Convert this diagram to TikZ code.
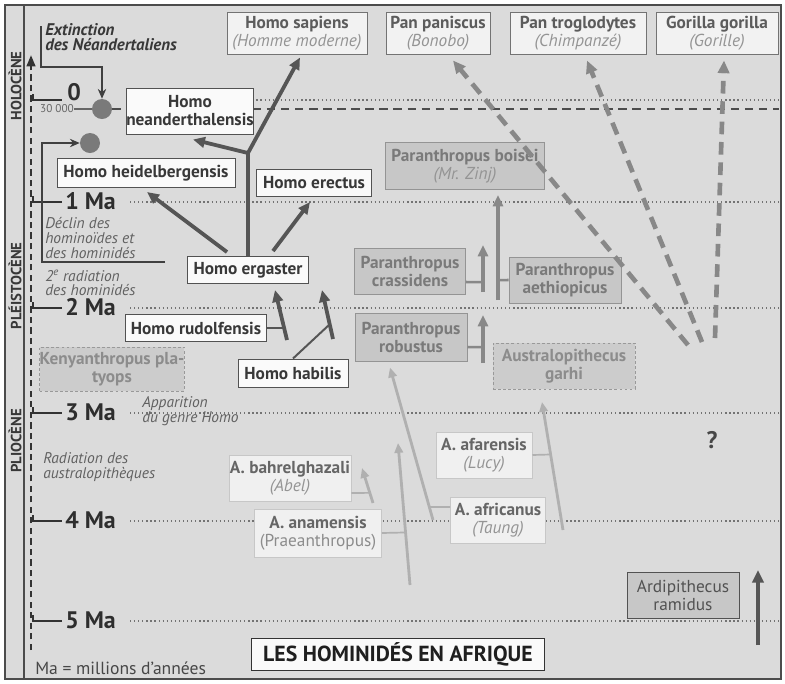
\documentclass[tikz,border=0pt]{standalone}
\usepackage{fontspec}
\setmainfont{PT Sans}
\usetikzlibrary{arrows.meta,calc}

\definecolor{homoline}{HTML}{555555}
\definecolor{paraline}{HTML}{888888}
\definecolor{australine}{HTML}{B0B0B0}

\newcommand\vernac[1]{{\mdseries\itshape\color{black!42}#1}}

\tikzset{
  sz/.style 2 args={minimum width=#1*0.25mm, minimum height=#2*0.25mm},
  taxon/.style={align=center, inner sep=0pt, line width=0.7pt,
    font=\bfseries\fontsize{12.3}{12.8}\selectfont},
  homobox/.style={taxon, draw=black!68, fill=black!2, text=black!78},
  apebox/.style={taxon, draw=black!55, fill=black!5, text=black!64},
  parabox/.style={taxon, draw=black!42, fill=black!22, text=black!52},
  australbox/.style={taxon, draw=black!22, fill=black!6, text=black!60},
  doubtbox/.style={taxon, draw=black!40, dash pattern=on 2pt off 1.6pt, fill=black!20, text=black!45},
  malabel/.style={inner sep=0pt, anchor=west, text=black!82, font=\bfseries\fontsize{17}{17}\selectfont},
  note/.style={inner sep=0pt, anchor=west, align=left, text=black!62, font=\itshape\fontsize{11}{10.5}\selectfont},
  era/.style={rotate=90, inner sep=0pt, text=black!78, font=\bfseries\fontsize{10.5}{10.5}\selectfont},
  grid/.style={black!55, line width=0.9pt, dotted},
  homoarrow/.style={homoline, line width=2.7pt, -{Triangle[length=8.5pt,width=7.5pt]}},
  homolink/.style={homoline, line width=1.4pt},
  paraarrow/.style={paraline, line width=2.6pt, -{Triangle[length=8pt,width=7pt]}},
  paralink/.style={paraline, line width=1.8pt},
  australarrow/.style={australine, line width=2pt, -{Triangle[length=7pt,width=6pt]}},
  australlink/.style={australine, line width=1.2pt},
  apearrow/.style={paraline, line width=3.3pt, dash pattern=on 9pt off 5.5pt, -{Triangle[length=9pt,width=8pt]}},
  bracket/.style={black!75, line width=0.9pt, -{Stealth[length=7pt,width=6pt]}},
  event/.style={circle, fill=black!52, minimum size=5mm, inner sep=0pt},
}

\begin{document}
\begin{tikzpicture}[x=0.25mm,y=-0.25mm]
  \useasboundingbox (0,0) rectangle (785,683);
  % frame
  \draw[black!70, line width=1pt, fill=black!14] (5,5) rectangle (781,679);
  \draw[black!70, line width=0.8pt] (24,5) -- (24,679);
  \coordinate (rightedge) at (779,0);

  % time axis
  \draw[black!80, line width=1.8pt, dash pattern=on 4.5pt off 3pt, -{Triangle[length=8pt,width=6pt]}] (31,650) -- (31,55);
  \node[era] (holo) at (15,86) {HOLOCÈNE};
  \node[era] (pleisto) at (15,286) {PLÉISTOCÈNE};
  \node[era] (plio) at (15,441) {PLIOCÈNE};

  \foreach \y in {100,202,308,413,521,621}
    \draw[grid] (130,\y) -- (779,\y);

  \draw[black!80, line width=1pt] (33,94) |- (62,100);
  \node[malabel, anchor=south west] (ma0) at (67,101) {0};
  \foreach \y/\n in {202/1,308/2,413/3,521/4,621/5} {
    \draw[black!80, line width=1pt] (33,\y-6) |- (62,\y);
    \node[malabel] (ma\n) at (65,\y-1) {\n~Ma};
  }

  % events
  \node[event] (c1) at (102,109) {};
  \node[event] (c2) at (90,143) {};
  \node[inner sep=0pt, text=black!60, font=\fontsize{8}{8}\selectfont] (t30) at (57,109) {30 000};
  \draw[black!60, line width=0.8pt] (t30.east) -- (c1.west);
  \draw[black!70, line width=1.2pt, dash pattern=on 6pt off 4pt] (c1.east) -- (c1.east -| rightedge);

  % notes
  \node[note, font=\bfseries\itshape\fontsize{12}{10.8}\selectfont, text=black!78] (extinct) at (45,37) {Extinction\\des Néandertaliens};
  \node[note] (declin) at (45,238) {Déclin des\\hominoïdes et\\des hominidés};
  \node[note] (radhom) at (45,283) {2\textsuperscript{e} radiation\\des hominidés};
  \node[note] (appar) at (142,411) {Apparition\\du genre Homo};
  \node[note] (radaus) at (43,467) {Radiation des\\australopithèques};
  \node[inner sep=0pt, anchor=west, text=black!72, font=\fontsize{12.5}{12.5}\selectfont] (legend) at (35,668) {Ma = millions d’années};
  \node[font=\bfseries\fontsize{17}{17}\selectfont, text=black!72] (unknown) at (712,440) {?};

  \coordinate (extTop) at (41,26);
  \draw[bracket] (extTop) |- (102,67) -- (c1.north);
  \coordinate (heiTop) at (165,262);
  \draw[bracket] (heiTop) -| (42,143) -- (c2.west);

  % taxa
  \node[apebox, sz={140}{42}] (sapiens) at (297,33) {Homo sapiens\\\vernac{(Homme moderne)}};
  \node[apebox, sz={104}{42}] (paniscus) at (438,33) {Pan paniscus\\\vernac{(Bonobo)}};
  \node[apebox, sz={136}{42}] (troglo) at (578,33) {Pan troglodytes\\\vernac{(Chimpanzé)}};
  \node[apebox, sz={122}{42}] (gorilla) at (717,33) {Gorilla gorilla\\\vernac{(Gorille)}};

  \node[homobox, sz={125}{46}] (nean) at (190,111) {Homo\\neanderthalensis};
  \node[homobox, sz={178}{29}] (heidel) at (146,173) {Homo heidelbergensis};
  \node[homobox, sz={115}{27}] (erectus) at (314,183) {Homo erectus};
  \node[homobox, sz={121}{27}] (ergaster) at (248,270) {Homo ergaster};
  \node[homobox, sz={141}{27}] (rudolf) at (196,328) {Homo rudolfensis};
  \node[homobox, sz={110}{28}] (habilis) at (293,373) {Homo habilis};
  \node[doubtbox, sz={141}{44}] (kenya) at (112,369) {Kenyanthropus pla-\\tyops};

  \node[parabox, sz={159}{47}] (boisei) at (465,166) {Paranthropus boisei\\\vernac{(Mr. Zinj)}};
  \node[parabox, sz={111}{46}] (crassi) at (410,271) {Paranthropus\\crassidens};
  \node[parabox, sz={112}{46}] (aethio) at (565,280) {Paranthropus\\aethiopicus};
  \node[parabox, sz={112}{48}] (robustus) at (411,337) {Paranthropus\\robustus};
  \node[doubtbox, sz={142}{46}] (garhi) at (564,366) {Australopithecus\\garhi};

  \node[australbox, sz={122}{46}] (bahrel) at (290,478) {A. bahrelghazali\\\vernac{(Abel)}};
  \node[australbox, sz={127}{48}] (anam) at (318,533) {A. anamensis\\{\mdseries\color{black!45}(Praeanthropus)}};
  \node[australbox, sz={96}{46}] (afar) at (484,455) {A. afarensis\\\vernac{(Lucy)}};
  \node[australbox, sz={95}{46}] (afric) at (498,520) {A. africanus\\\vernac{(Taung)}};
  \node[parabox, draw=black!68, text=black!68, sz={112}{46}, font=\mdseries\fontsize{12.3}{12.8}\selectfont] (ardi) at (683,595) {Ardipithecus\\ramidus};

  \node[homobox, draw=black!80, text=black!88, sz={293}{32}, font=\bfseries\fontsize{15.5}{15.5}\selectfont] (title) at (398,654) {LES HOMINIDÉS EN AFRIQUE};

  % genre Homo
  \coordinate (br) at (248,153);
  \draw[homoline, line width=2.7pt] (ergaster.north) -- (br);
  \draw[homoarrow] (br) -- ($(sapiens.south)+(3,3)$);
  \draw[homoarrow] (br) -- ($(nean.south)+(3,5)$);
  \draw[homoarrow] ($(ergaster.north)+(-21,-4)$) -- ($(heidel.south)+(1,4)$);
  \draw[homoarrow] ($(ergaster.north)+(25,-5)$) -- ($(erectus.south)+(-4,5)$);
  \coordinate (rudbase) at (287,340);
  \coordinate (rudtip) at (275,290);
  \draw[homoarrow] (rudbase) -- (rudtip);
  \draw[homolink] (rudolf.east) -- ($(rudbase)!0.24!(rudtip)$);
  \coordinate (habbase) at (333,339);
  \coordinate (habtip) at (322,290);
  \draw[homoarrow] (habbase) -- (habtip);
  \draw[homolink] (habilis.north) -- ($(habbase)!0.3!(habtip)$);

  % Paranthropes
  \coordinate (robbase) at (483,363);
  \coordinate (robtip) at (483,315);
  \draw[paraarrow] (robbase) -- (robtip);
  \draw[paralink] ($(robustus.east)+(0,10)$) -- ($(robbase)!0.33!(robtip)$);
  \coordinate (crabase) at (483,292);
  \coordinate (cratip) at (483,245);
  \draw[paraarrow] (crabase) -- (cratip);
  \draw[paralink] ($(crassi.east)+(0,11)$) -- ($(crabase)!0.21!(cratip)$);
  \coordinate (boibase) at (498,300);
  \coordinate (boitip) at (498,195);
  \draw[paraarrow] (boibase) -- (boitip);
  \draw[paralink] (aethio.west) -- ($(boibase)!0.19!(boitip)$);

  % Australopitheques
  \coordinate (bahbase) at (373,503);
  \coordinate (bahtip) at (362,468);
  \draw[australarrow] (bahbase) -- (bahtip);
  \draw[australlink] ($(bahrel.east)+(0,15)$) -- ($(bahbase)!0.29!(bahtip)$);
  \coordinate (anabase) at (410,585);
  \coordinate (anatip) at (398,443);
  \draw[australarrow] (anabase) -- (anatip);
  \draw[australlink] (anam.east) -- ($(anabase)!0.37!(anatip)$);
  \coordinate (afrbase) at (433,520);
  \draw[australarrow] (afrbase) -- ($(robustus.south)+(-21,6)$);
  \draw[australlink] ($(afric.west)+(0,-13)$) -- ($(afrbase)!0.086!($(robustus.south)+(-21,6)$)$);
  \coordinate (afabase) at (563,530);
  \coordinate (afatip) at (542,402);
  \draw[australarrow] (afabase) -- (afatip);
  \draw[australlink] (afar.east) -- ($(afabase)!0.59!(afatip)$);

  % grands singes
  \coordinate (apeA) at (688,345);
  \coordinate (apeB) at (702,342);
  \coordinate (apeC) at (715,338);
  \draw[apearrow] (apeA) -- ($(paniscus.south)+(15,6)$);
  \draw[apearrow] (apeB) -- ($(troglo.south)+(9,6)$);
  \draw[apearrow] (apeC) -- ($(gorilla.south)+(7,6)$);

  % Ardipithecus
  \coordinate (ardbase) at (758,645);
  \draw[homoline, line width=2.8pt, -{Triangle[length=9pt,width=8pt]}] (ardbase) -- (758,570);
\end{tikzpicture}
\end{document}
